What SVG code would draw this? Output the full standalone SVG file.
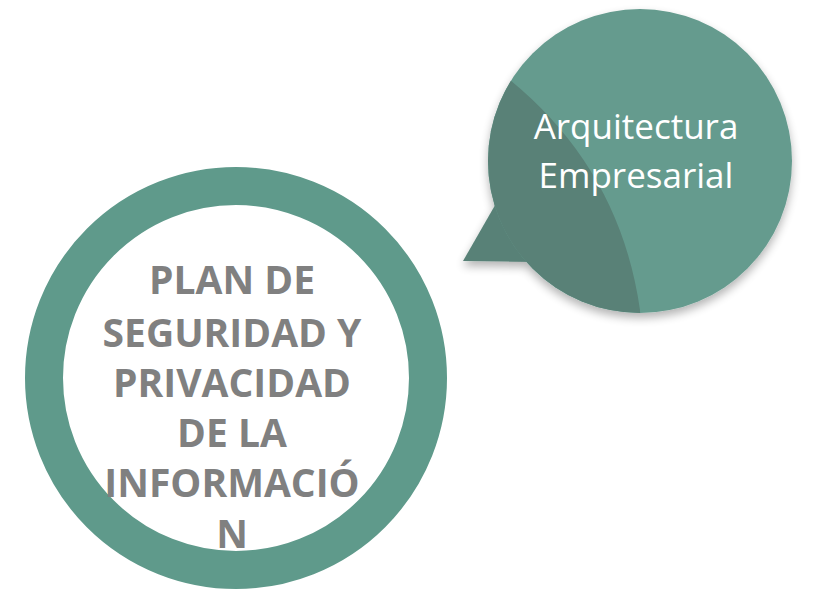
<svg xmlns="http://www.w3.org/2000/svg" width="813" height="589" viewBox="0 0 813 589">
<defs>
<style>
.ring{fill:none;stroke:#5f9a8b;stroke-width:38}
.light{fill:#659b8e}
.dark{fill:#598177}
.t1{font-family:"Open Sans","Noto Sans",sans-serif;font-weight:bold;font-size:39px;fill:#808080;text-anchor:middle}
.t2{font-family:"Open Sans","Noto Sans",sans-serif;font-size:35px;fill:#ffffff;text-anchor:middle}
</style>
<clipPath id="bc"><circle cx="640" cy="161" r="152"/></clipPath>
<filter id="sh" x="-20%" y="-20%" width="140%" height="140%">
<feGaussianBlur in="SourceAlpha" stdDeviation="5"/>
<feOffset dx="0" dy="5" result="b"/>
<feComponentTransfer><feFuncA type="linear" slope="0.3"/></feComponentTransfer>
<feMerge><feMergeNode/><feMergeNode in="SourceGraphic"/></feMerge>
</filter>
</defs>
<rect width="813" height="589" fill="#ffffff"/>
<g id="node-plan">
<circle class="ring" cx="236" cy="378" r="192"/>
<text class="t1" x="232" y="294">PLAN DE</text>
<text class="t1" x="232" y="347">SEGURIDAD Y</text>
<text class="t1" x="232" y="397">PRIVACIDAD</text>
<text class="t1" x="232" y="447">DE LA</text>
<text class="t1" x="232" y="497">INFORMACIÓ</text>
<text class="t1" x="232" y="548">N</text>
</g>
<g id="node-arquitectura">
<g filter="url(#sh)">
<polygon class="dark" points="498,200 463,261 535,262"/>
<circle class="light" cx="640" cy="161" r="152"/>
</g>
<path class="dark" clip-path="url(#bc)" d="M510,80 Q620,170 640,310 L640,330 L470,330 L470,0 L500,0 Z"/>
<text class="t2" x="636" y="139">Arquitectura</text>
<text class="t2" x="636" y="188">Empresarial</text>
</g>
<g id="connectors"/>
</svg>
